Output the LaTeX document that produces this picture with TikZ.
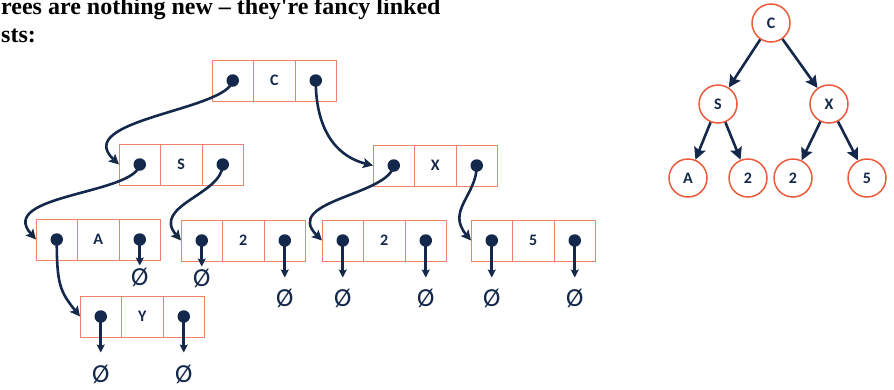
\documentclass[tikz,border=0pt]{standalone}
\usepackage{fontspec}
\newfontfamily\lab{Carlito}
\newfontfamily\ttl{Liberation Serif}
\usetikzlibrary{arrows.meta}
\definecolor{navy}{HTML}{14284B}
\definecolor{boxc}{HTML}{F0806A}
\definecolor{circc}{HTML}{EC5B3C}
\tikzset{
 cell/.style={draw=boxc, line width=1pt, minimum width=41.5pt, minimum height=41pt, inner sep=0pt, outer sep=0pt, font=\lab\bfseries\fontsize{16}{16}\selectfont, text=navy},
 dot/.style={circle, fill=navy, inner sep=0pt, minimum size=12.5pt},
 link/.style={draw=navy, line width=2.6pt, -{Stealth[length=10pt,width=10pt,inset=2pt]}},
 nullarr/.style={draw=navy, line width=2.6pt, -{Stealth[length=8pt,width=8pt,inset=1.5pt]}},
 nullsym/.style={font=\lab\fontsize{26}{26}\selectfont, text=navy, inner sep=0pt},
 tnode/.style={circle, draw=circc, line width=1.5pt, minimum size=38pt, inner sep=0pt, font=\lab\bfseries\fontsize{16}{16}\selectfont, text=navy},
 tarrow/.style={draw=navy, line width=2.6pt, -{Stealth[length=12pt,width=12pt,inset=2pt]}},
 titletext/.style={anchor=base west, inner sep=0pt, font=\ttl\bfseries\fontsize{24}{24}\selectfont},
}
\newcommand\mkrec[4]{%
 \node[cell] (#1l) at ({#2+20.75},{#3+20.5}) {};
 \node[cell, anchor=west] (#1m) at (#1l.east) {#4};
 \node[cell, anchor=west] (#1r) at (#1m.east) {};
}
\newcommand\mkdots[1]{%
 \node[dot] (#1a) at (#1l.center) {};
 \node[dot] (#1b) at (#1r.center) {};
}
\newcommand\mknull[3]{%
 \coordinate (#1e) at ([yshift=-#2pt]#1.center);
 \node[nullsym] (#1n) at ([yshift=-#3pt]#1.center) {Ø};
 \draw[nullarr] (#1.center) -- (#1e);
}
\begin{document}
\begin{tikzpicture}[x=1pt,y=-1pt]
\useasboundingbox (0,0) rectangle (894,389);
% title
\node[titletext] (t1) at (1,14) {rees are nothing new – they're fancy linked};
\node[titletext] (t2) at (1,42) {sts:};
% records
\mkrec{C}{212}{60}{C}
\mkrec{S}{119}{144}{S}
\mkrec{X}{373}{145}{X}
\mkrec{A}{36}{219}{A}
\mkrec{P}{181}{220}{2}
\mkrec{Q}{322}{220}{2}
\mkrec{F}{471}{220}{5}
\mkrec{Y}{80}{296}{Y}
% links
\draw[link] (Cl.center) .. controls +(-5,30) and +(-48,-45) .. (Sl.west);
\draw[link] (Cr.center) .. controls +(0,45) and +(-40,-10) .. (Xl.west);
\draw[link] (Sl.center) .. controls +(-5,30) and +(-40,-45) .. (Al.west);
\draw[link] (Sr.center) .. controls +(0,30) and +(-30,-35) .. (Pl.west);
\draw[link] (Xl.center) .. controls +(-5,30) and +(-40,-40) .. (Ql.west);
\draw[link] (Xr.center) .. controls +(0,30) and +(-25,-30) .. (Fl.west);
\draw[link] (Al.center) .. controls +(0,45) and +(-20,-25) .. (Yl.west);
% dots
\mkdots{C}\mkdots{S}\mkdots{X}\mkdots{A}\mkdots{P}\mkdots{Q}\mkdots{F}\mkdots{Y}
% null pointers
\mknull{Ab}{26}{38}
\mknull{Pa}{26}{38}
\mknull{Pb}{37}{58}
\mknull{Qa}{37}{58}
\mknull{Qb}{37}{58}
\mknull{Fa}{37}{58}
\mknull{Fb}{37}{58}
\mknull{Ya}{36}{58}
\mknull{Yb}{36}{58}
% tree
\node[tnode] (tC) at (771,23) {C};
\node[tnode] (tS) at (718,104) {S};
\node[tnode] (tX) at (829,104) {X};
\node[tnode] (tA) at (688,178) {A};
\node[tnode] (t2a) at (748,178) {2};
\node[tnode] (t2b) at (793,178) {2};
\node[tnode] (t5) at (867,178) {5};
\draw[tarrow] (tC) -- (tS);
\draw[tarrow] (tC) -- (tX);
\draw[tarrow] (tS) -- (tA);
\draw[tarrow] (tS) -- (t2a);
\draw[tarrow] (tX) -- (t2b);
\draw[tarrow] (tX) -- (t5);
\end{tikzpicture}
\end{document}
